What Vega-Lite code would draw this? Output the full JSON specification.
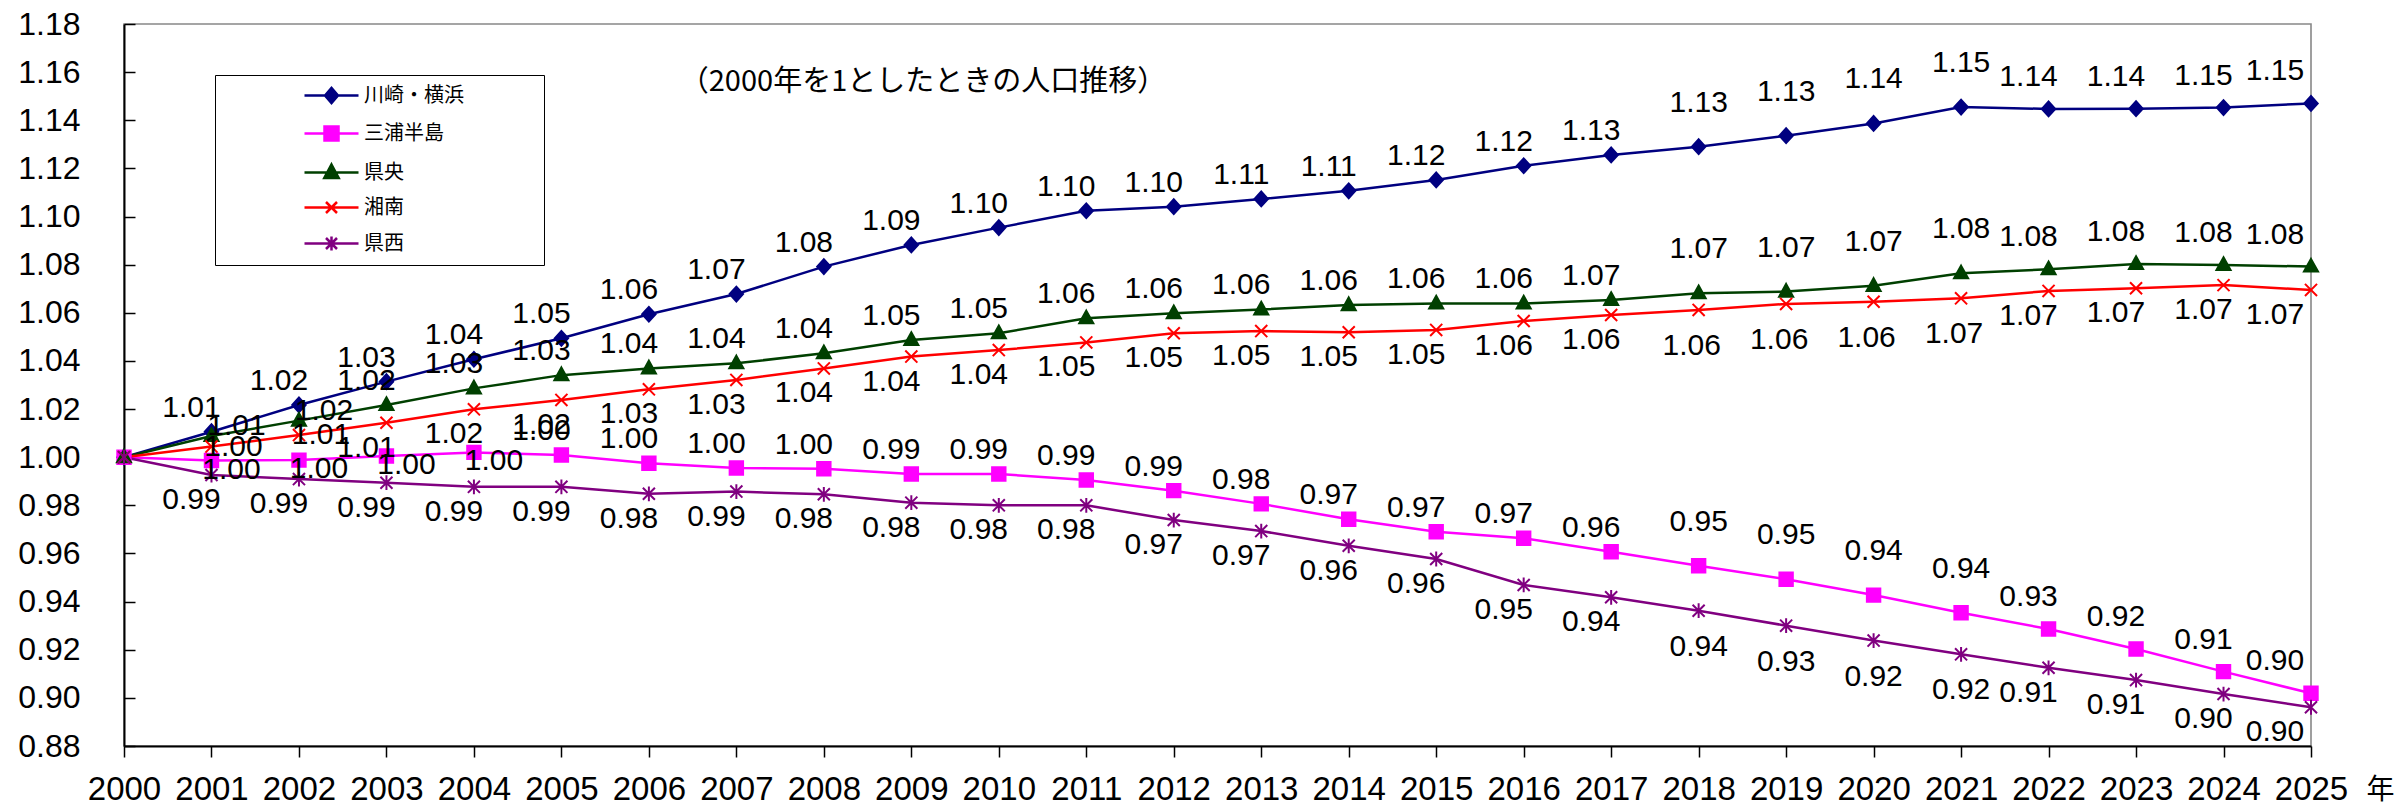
{
  "$schema": "https://vega.github.io/schema/vega-lite/v6.json",
  "width": 2187,
  "height": 722,
  "autosize": {"type": "none"},
  "padding": {"left": 124, "top": 24, "right": 91, "bottom": 60},
  "background": "white",
  "title": {
    "text": "（2000年を1としたときの人口推移）",
    "anchor": "start",
    "frame": "group",
    "align": "center",
    "baseline": "middle",
    "dx": 799,
    "dy": 107,
    "font": "Noto Sans CJK JP",
    "fontSize": 29,
    "fontWeight": "normal",
    "color": "#000000"
  },
  "config": {
    "view": {"stroke": "#888888", "strokeWidth": 1.6},
    "legend": {
      "orient": "none",
      "legendX": 91,
      "legendY": 51,
      "padding": 9,
      "strokeColor": "#000000",
      "fillColor": "#ffffff",
      "labelFont": "Noto Sans CJK JP",
      "labelFontSize": 20,
      "labelColor": "#000000",
      "symbolSize": 400,
      "symbolStrokeWidth": 2.5,
      "symbolOffset": 96,
      "labelOffset": 21,
      "rowPadding": 13,
      "titleFontSize": 0
    }
  },
  "resolve": {"scale": {"color": "independent", "stroke": "independent", "shape": "independent"}},
  "data": {
    "values": [
      {"series": "川崎・横浜", "year": 2000, "value": 1.0},
      {"series": "川崎・横浜", "year": 2001, "value": 1.0106},
      {"series": "川崎・横浜", "year": 2002, "value": 1.0217},
      {"series": "川崎・横浜", "year": 2003, "value": 1.0314},
      {"series": "川崎・横浜", "year": 2004, "value": 1.0407},
      {"series": "川崎・横浜", "year": 2005, "value": 1.0494},
      {"series": "川崎・横浜", "year": 2006, "value": 1.0594},
      {"series": "川崎・横浜", "year": 2007, "value": 1.0678},
      {"series": "川崎・横浜", "year": 2008, "value": 1.0792},
      {"series": "川崎・横浜", "year": 2009, "value": 1.0882},
      {"series": "川崎・横浜", "year": 2010, "value": 1.0954},
      {"series": "川崎・横浜", "year": 2011, "value": 1.1024},
      {"series": "川崎・横浜", "year": 2012, "value": 1.1041},
      {"series": "川崎・横浜", "year": 2013, "value": 1.1073},
      {"series": "川崎・横浜", "year": 2014, "value": 1.1107},
      {"series": "川崎・横浜", "year": 2015, "value": 1.1152},
      {"series": "川崎・横浜", "year": 2016, "value": 1.1211},
      {"series": "川崎・横浜", "year": 2017, "value": 1.1256},
      {"series": "川崎・横浜", "year": 2018, "value": 1.129},
      {"series": "川崎・横浜", "year": 2019, "value": 1.1336},
      {"series": "川崎・横浜", "year": 2020, "value": 1.1387},
      {"series": "川崎・横浜", "year": 2021, "value": 1.1455},
      {"series": "川崎・横浜", "year": 2022, "value": 1.1447},
      {"series": "川崎・横浜", "year": 2023, "value": 1.1448},
      {"series": "川崎・横浜", "year": 2024, "value": 1.1453},
      {"series": "川崎・横浜", "year": 2025, "value": 1.147},
      {"series": "三浦半島", "year": 2000, "value": 1.0},
      {"series": "三浦半島", "year": 2001, "value": 0.9986},
      {"series": "三浦半島", "year": 2002, "value": 0.9988},
      {"series": "三浦半島", "year": 2003, "value": 1.0005},
      {"series": "三浦半島", "year": 2004, "value": 1.002},
      {"series": "三浦半島", "year": 2005, "value": 1.0009},
      {"series": "三浦半島", "year": 2006, "value": 0.9975},
      {"series": "三浦半島", "year": 2007, "value": 0.9955},
      {"series": "三浦半島", "year": 2008, "value": 0.9952},
      {"series": "三浦半島", "year": 2009, "value": 0.993},
      {"series": "三浦半島", "year": 2010, "value": 0.993},
      {"series": "三浦半島", "year": 2011, "value": 0.9905},
      {"series": "三浦半島", "year": 2012, "value": 0.9861},
      {"series": "三浦半島", "year": 2013, "value": 0.9806},
      {"series": "三浦半島", "year": 2014, "value": 0.9742},
      {"series": "三浦半島", "year": 2015, "value": 0.969},
      {"series": "三浦半島", "year": 2016, "value": 0.9663},
      {"series": "三浦半島", "year": 2017, "value": 0.9607},
      {"series": "三浦半島", "year": 2018, "value": 0.9549},
      {"series": "三浦半島", "year": 2019, "value": 0.9493},
      {"series": "三浦半島", "year": 2020, "value": 0.9427},
      {"series": "三浦半島", "year": 2021, "value": 0.9354},
      {"series": "三浦半島", "year": 2022, "value": 0.9286},
      {"series": "三浦半島", "year": 2023, "value": 0.9203},
      {"series": "三浦半島", "year": 2024, "value": 0.9109},
      {"series": "三浦半島", "year": 2025, "value": 0.9019},
      {"series": "県央", "year": 2000, "value": 1.0},
      {"series": "県央", "year": 2001, "value": 1.0088},
      {"series": "県央", "year": 2002, "value": 1.0152},
      {"series": "県央", "year": 2003, "value": 1.0217},
      {"series": "県央", "year": 2004, "value": 1.0286},
      {"series": "県央", "year": 2005, "value": 1.0341},
      {"series": "県央", "year": 2006, "value": 1.0369},
      {"series": "県央", "year": 2007, "value": 1.039},
      {"series": "県央", "year": 2008, "value": 1.0432},
      {"series": "県央", "year": 2009, "value": 1.0487},
      {"series": "県央", "year": 2010, "value": 1.0515},
      {"series": "県央", "year": 2011, "value": 1.0577},
      {"series": "県央", "year": 2012, "value": 1.0598},
      {"series": "県央", "year": 2013, "value": 1.0614},
      {"series": "県央", "year": 2014, "value": 1.0632},
      {"series": "県央", "year": 2015, "value": 1.0639},
      {"series": "県央", "year": 2016, "value": 1.0639},
      {"series": "県央", "year": 2017, "value": 1.0653},
      {"series": "県央", "year": 2018, "value": 1.0681},
      {"series": "県央", "year": 2019, "value": 1.0688},
      {"series": "県央", "year": 2020, "value": 1.0712},
      {"series": "県央", "year": 2021, "value": 1.0764},
      {"series": "県央", "year": 2022, "value": 1.0781},
      {"series": "県央", "year": 2023, "value": 1.0803},
      {"series": "県央", "year": 2024, "value": 1.0799},
      {"series": "県央", "year": 2025, "value": 1.0792},
      {"series": "湘南", "year": 2000, "value": 1.0},
      {"series": "湘南", "year": 2001, "value": 1.0044},
      {"series": "湘南", "year": 2002, "value": 1.0092},
      {"series": "湘南", "year": 2003, "value": 1.0143},
      {"series": "湘南", "year": 2004, "value": 1.0199},
      {"series": "湘南", "year": 2005, "value": 1.0238},
      {"series": "湘南", "year": 2006, "value": 1.0282},
      {"series": "湘南", "year": 2007, "value": 1.0321},
      {"series": "湘南", "year": 2008, "value": 1.0369},
      {"series": "湘南", "year": 2009, "value": 1.0418},
      {"series": "湘南", "year": 2010, "value": 1.0445},
      {"series": "湘南", "year": 2011, "value": 1.0477},
      {"series": "湘南", "year": 2012, "value": 1.0515},
      {"series": "湘南", "year": 2013, "value": 1.0524},
      {"series": "湘南", "year": 2014, "value": 1.0519},
      {"series": "湘南", "year": 2015, "value": 1.0529},
      {"series": "湘南", "year": 2016, "value": 1.0566},
      {"series": "湘南", "year": 2017, "value": 1.0591},
      {"series": "湘南", "year": 2018, "value": 1.0612},
      {"series": "湘南", "year": 2019, "value": 1.0637},
      {"series": "湘南", "year": 2020, "value": 1.0646},
      {"series": "湘南", "year": 2021, "value": 1.066},
      {"series": "湘南", "year": 2022, "value": 1.0691},
      {"series": "湘南", "year": 2023, "value": 1.0702},
      {"series": "湘南", "year": 2024, "value": 1.0715},
      {"series": "湘南", "year": 2025, "value": 1.0695},
      {"series": "県西", "year": 2000, "value": 1.0},
      {"series": "県西", "year": 2001, "value": 0.9926},
      {"series": "県西", "year": 2002, "value": 0.9909},
      {"series": "県西", "year": 2003, "value": 0.9894},
      {"series": "県西", "year": 2004, "value": 0.9877},
      {"series": "県西", "year": 2005, "value": 0.9877},
      {"series": "県西", "year": 2006, "value": 0.9848},
      {"series": "県西", "year": 2007, "value": 0.9857},
      {"series": "県西", "year": 2008, "value": 0.9846},
      {"series": "県西", "year": 2009, "value": 0.9811},
      {"series": "県西", "year": 2010, "value": 0.98},
      {"series": "県西", "year": 2011, "value": 0.98},
      {"series": "県西", "year": 2012, "value": 0.9739},
      {"series": "県西", "year": 2013, "value": 0.9693},
      {"series": "県西", "year": 2014, "value": 0.9632},
      {"series": "県西", "year": 2015, "value": 0.9577},
      {"series": "県西", "year": 2016, "value": 0.9469},
      {"series": "県西", "year": 2017, "value": 0.9418},
      {"series": "県西", "year": 2018, "value": 0.9362},
      {"series": "県西", "year": 2019, "value": 0.93},
      {"series": "県西", "year": 2020, "value": 0.9238},
      {"series": "県西", "year": 2021, "value": 0.9181},
      {"series": "県西", "year": 2022, "value": 0.9125},
      {"series": "県西", "year": 2023, "value": 0.9074},
      {"series": "県西", "year": 2024, "value": 0.9016},
      {"series": "県西", "year": 2025, "value": 0.8961}
    ]
  },
  "encoding": {
    "x": {
      "field": "year",
      "type": "quantitative",
      "scale": {"domain": [2000, 2025], "nice": false, "zero": false},
      "axis": {
        "title": "年",
        "titleFont": "Noto Sans CJK JP",
        "titleFontSize": 28,
        "titleFontWeight": "normal",
        "titleColor": "#000000",
        "titleX": 2256,
        "titleY": 44,
        "titleAlign": "center",
        "titleBaseline": "middle",
        "values": [2000,2001,2002,2003,2004,2005,2006,2007,2008,2009,2010,2011,2012,2013,2014,2015,2016,2017,2018,2019,2020,2021,2022,2023,2024,2025],
        "format": "d",
        "labelFont": "Liberation Sans",
        "labelFontSize": 33,
        "labelColor": "#000000",
        "labelBaseline": "top",
        "labelPadding": 16,
        "labelOverlap": false,
        "labelFlush": false,
        "grid": false,
        "domainColor": "#000000",
        "domainWidth": 2,
        "tickColor": "#000000",
        "tickWidth": 1.5,
        "tickSize": 11
      }
    },
    "y": {
      "field": "value",
      "type": "quantitative",
      "scale": {"domain": [0.88, 1.18], "nice": false, "zero": false},
      "axis": {
        "title": null,
        "values": [0.88,0.9,0.92,0.94,0.96,0.98,1.0,1.02,1.04,1.06,1.08,1.1,1.12,1.14,1.16,1.18],
        "format": ".2f",
        "labelFont": "Liberation Sans",
        "labelFontSize": 32,
        "labelColor": "#000000",
        "labelPadding": 55,
        "labelOverlap": false,
        "labelFlush": false,
        "grid": false,
        "domainColor": "#000000",
        "domainWidth": 2,
        "tickColor": "#000000",
        "tickWidth": 1.5,
        "tickSize": -11
      }
    }
  },
  "layer": [
    {
      "mark": {"type": "line", "strokeWidth": 2.5},
      "encoding": {
        "color": {
          "field": "series",
          "type": "nominal",
          "scale": {"domain": ["川崎・横浜", "三浦半島", "県央", "湘南", "県西"], "range": ["#000080", "#ff00ff", "#004000", "#ff0000", "#800080"]},
          "legend": null
        }
      }
    },
    {
      "mark": {"type": "point", "filled": true, "size": 180, "strokeWidth": 2, "opacity": 1},
      "encoding": {
        "color": {
          "field": "series",
          "type": "nominal",
          "scale": {"domain": ["川崎・横浜", "三浦半島", "県央", "湘南", "県西"], "range": ["#000080", "#ff00ff", "#004000", "#ff0000", "#800080"]},
          "legend": null
        },
        "stroke": {
          "field": "series",
          "type": "nominal",
          "scale": {"domain": ["川崎・横浜", "三浦半島", "県央", "湘南", "県西"], "range": ["#000080", "#ff00ff", "#004000", "#ff0000", "#800080"]},
          "legend": null
        },
        "shape": {
          "field": "series",
          "type": "nominal",
          "scale": {"domain": ["川崎・横浜", "三浦半島", "県央", "湘南", "県西"], "range": ["M-1,0L0,-1.1L1,0L0,1.1Z", "M-1,-1H1V1H-1Z", "M0,-1.15L1.05,0.75H-1.05Z", "M-0.9,-0.9L0.9,0.9M-0.9,0.9L0.9,-0.9", "M-0.9,-0.9L0.9,0.9M-0.9,0.9L0.9,-0.9M0,-1.1V1.1"]},
          "legend": null
        }
      }
    },
    {
      "transform": [{"filter": "datum.year < 0"}],
      "mark": {"type": "point", "filled": true, "strokeWidth": 2.5, "opacity": 1},
      "encoding": {
        "color": {
          "field": "series",
          "type": "nominal",
          "scale": {"domain": ["川崎・横浜", "三浦半島", "県央", "湘南", "県西"], "range": ["#000080", "#ff00ff", "#004000", "#ff0000", "#800080"]},
          "legend": {"title": null}
        },
        "stroke": {
          "field": "series",
          "type": "nominal",
          "scale": {"domain": ["川崎・横浜", "三浦半島", "県央", "湘南", "県西"], "range": ["#000080", "#ff00ff", "#004000", "#ff0000", "#800080"]},
          "legend": {"title": null}
        },
        "shape": {
          "field": "series",
          "type": "nominal",
          "scale": {"domain": ["川崎・横浜", "三浦半島", "県央", "湘南", "県西"], "range": ["M-2.7,0H2.7M-0.65,0L0,-0.75L0.65,0L0,0.75ZM19.8,0", "M-2.7,0H2.7M-0.7,-0.7H0.7V0.7H-0.7ZM19.8,0", "M-2.7,0H2.7M0,-0.8L0.72,0.55H-0.72ZM19.8,0", "M-2.7,0H2.7M-0.55,-0.55L0.55,0.55M-0.55,0.55L0.55,-0.55M19.8,0", "M-2.7,0H2.7M-0.55,-0.55L0.55,0.55M-0.55,0.55L0.55,-0.55M0,-0.7V0.7M19.8,0"]},
          "legend": {"title": null}
        }
      }
    },
    {
      "transform": [{"filter": "datum.year > 2000"}],
      "mark": {
        "type": "text",
        "font": "Liberation Sans",
        "fontSize": 30,
        "color": "#000000",
        "baseline": "middle",
        "align": "center",
        "dx": {"expr": "datum.year == 2025 ? -36 : (datum.year >= 2018 && datum.year <= 2021) ? (datum.series == '湘南' ? -7 : 0) : (datum.series == '県央' && datum.year <= 2002) ? 25 : (datum.series == '三浦半島' && datum.year <= 2004) ? 20 : (datum.series == '湘南' && datum.year <= 2002) ? 22 : -20"},
        "dy": {"expr": "(datum.series == '湘南' || datum.series == '県西') ? ((datum.series == '湘南' && datum.year <= 2002) ? 0 : (datum.year >= 2018 && datum.year <= 2021) ? 36 : 25) : (datum.series == '県央' && datum.year <= 2002) ? -10 : (datum.series == '三浦半島' && datum.year <= 2004) ? 9 : (datum.year >= 2018 && datum.year <= 2021) ? -44 : datum.year >= 2022 ? -32 : -24"}
      },
      "encoding": {"text": {"field": "value", "type": "quantitative", "format": ".2f"}}
    }
  ]
}
